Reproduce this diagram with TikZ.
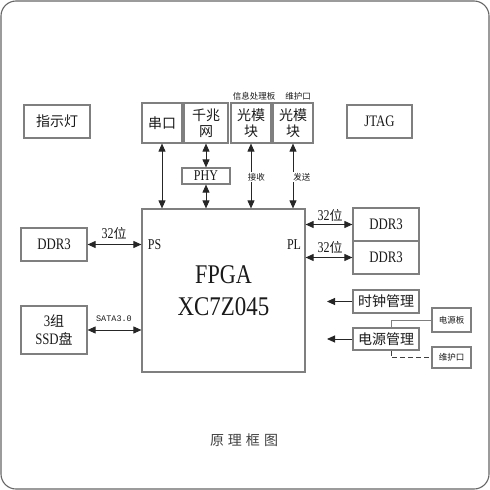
\documentclass[tikz,border=0pt]{standalone}
\usepackage{fontspec}
\setmainfont{Liberation Serif}
\newfontfamily\cjk{Noto Sans CJK SC}
\newfontfamily\monof{Liberation Mono}
\usetikzlibrary{arrows.meta}
\definecolor{boxgray}{HTML}{7F7F7F}
\definecolor{txt}{HTML}{1A1A1A}
\definecolor{framegray}{HTML}{666666}
\newcommand{\cond}[1]{\scalebox{0.8}[1]{#1}}
\begin{document}
\begin{tikzpicture}[x=1pt,y=-1pt,
  blk/.style={draw=boxgray, line width=1.2pt, fill=white, inner sep=0pt, text=txt, align=center},
  conn/.style={line width=0.9pt, draw=black!85, {Triangle[length=8pt,width=7pt]}-{Triangle[length=8pt,width=7pt]}},
  onearrow/.style={line width=0.9pt, draw=black!85, -{Triangle[length=8pt,width=7pt]}},
  zh/.style={font=\cjk\fontsize{14}{16}\selectfont},
  en/.style={font=\fontsize{16}{18}\selectfont},
  lbl/.style={text=txt, inner sep=0pt, font=\fontsize{15}{16}\selectfont},
  tiny/.style={text=txt, inner sep=0pt, font=\cjk\fontsize{8.5}{10}\selectfont},
]
\useasboundingbox (0,0) rectangle (490,490);
\draw[framegray, line width=1.1pt, rounded corners=15pt] (1,1) rectangle (489,489);

% top row
\node[blk, zh, minimum width=66pt, minimum height=33pt] (zsd) at (57,121.5) {指示灯};
\node[blk, en, minimum width=65pt, minimum height=33pt] (jtag) at (379.5,121.5) {\cond{JTAG}};
\node[blk, zh, minimum width=40pt, minimum height=40pt] (ck) at (162,123) {串口};
\node[blk, zh, minimum width=44pt, minimum height=40pt] (qzw) at (206,123) {千兆\\网};
\node[blk, zh, minimum width=40pt, minimum height=40pt] (gm1) at (251,123) {光模\\块};
\node[blk, zh, minimum width=40pt, minimum height=40pt] (gm2) at (293,123) {光模\\块};
\node[tiny] (xxcl) at (254,96) {信息处理板};
\node[tiny] (whkt) at (298,96) {维护口};
\node[blk, font=\fontsize{15}{16}\selectfont, minimum width=48pt, minimum height=16pt] (phy) at (206,176) {\cond{PHY}};

% FPGA
\node[blk, font=\fontsize{27}{32}\selectfont, minimum width=163pt, minimum height=163pt] (fpga) at (223.5,290.5) {\scalebox{0.82}[1]{FPGA}\\\scalebox{0.85}[1]{XC7Z045}};
\node[lbl] (ps) at (154.5,245) {\cond{PS}};
\node[lbl] (pl) at (294,245) {\cond{PL}};

% left
\node[blk, en, minimum width=66pt, minimum height=33pt] (ddrl) at (54,244.5) {\cond{DDR3}};
\node[blk, en, minimum width=66pt, minimum height=48pt] (ssd) at (54,330) {\cond{3}{\cjk\fontsize{14}{16}\selectfont 组}\\\cond{SSD}{\cjk\fontsize{14}{16}\selectfont 盘}};

% right
\node[blk, en, minimum width=66pt, minimum height=33pt] (ddr1) at (386,224.5) {\cond{DDR3}};
\node[blk, en, minimum width=66pt, minimum height=33pt] (ddr2) at (386,257.5) {\cond{DDR3}};
\node[blk, zh, minimum width=66pt, minimum height=23pt] (clk) at (386,301.5) {时钟管理};
\node[blk, zh, minimum width=66pt, minimum height=22pt] (pwr) at (386,339) {电源管理};
\node[blk, tiny, minimum width=39pt, minimum height=24pt] (pwrb) at (451.5,320) {电源板};
\node[blk, tiny, minimum width=39pt, minimum height=21pt] (whk) at (451.5,357.5) {维护口};

% connectors top
\draw[conn] (ck.south) -- (ck.south |- fpga.north);
\draw[conn] (qzw.south) -- (phy.north);
\draw[conn] (phy.south) -- (phy.south |- fpga.north);
\draw[conn] (gm1.south) -- (gm1.south |- fpga.north);
\draw[conn] (gm2.south) -- (gm2.south |- fpga.north);
\node[tiny, fill=white, inner sep=0.6pt, anchor=west] (js) at (247,177) {接收};
\node[tiny, fill=white, inner sep=0.6pt, anchor=west] (fs) at (292.5,177) {发送};

% left connectors
\draw[conn] (ddrl.east) -- (ddrl.east -| fpga.west);
\draw[conn] (ssd.east) -- (ssd.east -| fpga.west);
\node[lbl] (w32l) at (114,233) {\cond{32}{\cjk\fontsize{13}{15}\selectfont 位}};
\node[text=txt, inner sep=0pt, font=\monof\fontsize{8.5}{10}\selectfont] (sata) at (114,319) {SATA3.0};

% right connectors
\draw[conn] (ddr1.west -| fpga.east) -- (ddr1.west);
\draw[conn] (ddr2.west -| fpga.east) -- (ddr2.west);
\node[lbl] (w32a) at (330,215) {\cond{32}{\cjk\fontsize{13}{15}\selectfont 位}};
\node[lbl] (w32b) at (330,247.5) {\cond{32}{\cjk\fontsize{13}{15}\selectfont 位}};

\coordinate (clkend) at (327,301.5);
\coordinate (pwrend) at (327,339);
\draw[onearrow] (clk.west) -- (clkend);
\draw[onearrow] (pwr.west) -- (pwrend);
\draw[boxgray, line width=1pt] ([xshift=5pt]pwr.north) |- (pwrb.west);
\draw[black!75, line width=1pt, dash pattern=on 5pt off 3pt] ([xshift=5pt]pwr.south) |- (whk.west);

% caption
\node[text=black!75, inner sep=0pt, font=\cjk\fontsize{14}{16}\selectfont] (cap) at (244,440) {原\hspace{4pt}理\hspace{4pt}框\hspace{4pt}图};
\end{tikzpicture}
\end{document}
